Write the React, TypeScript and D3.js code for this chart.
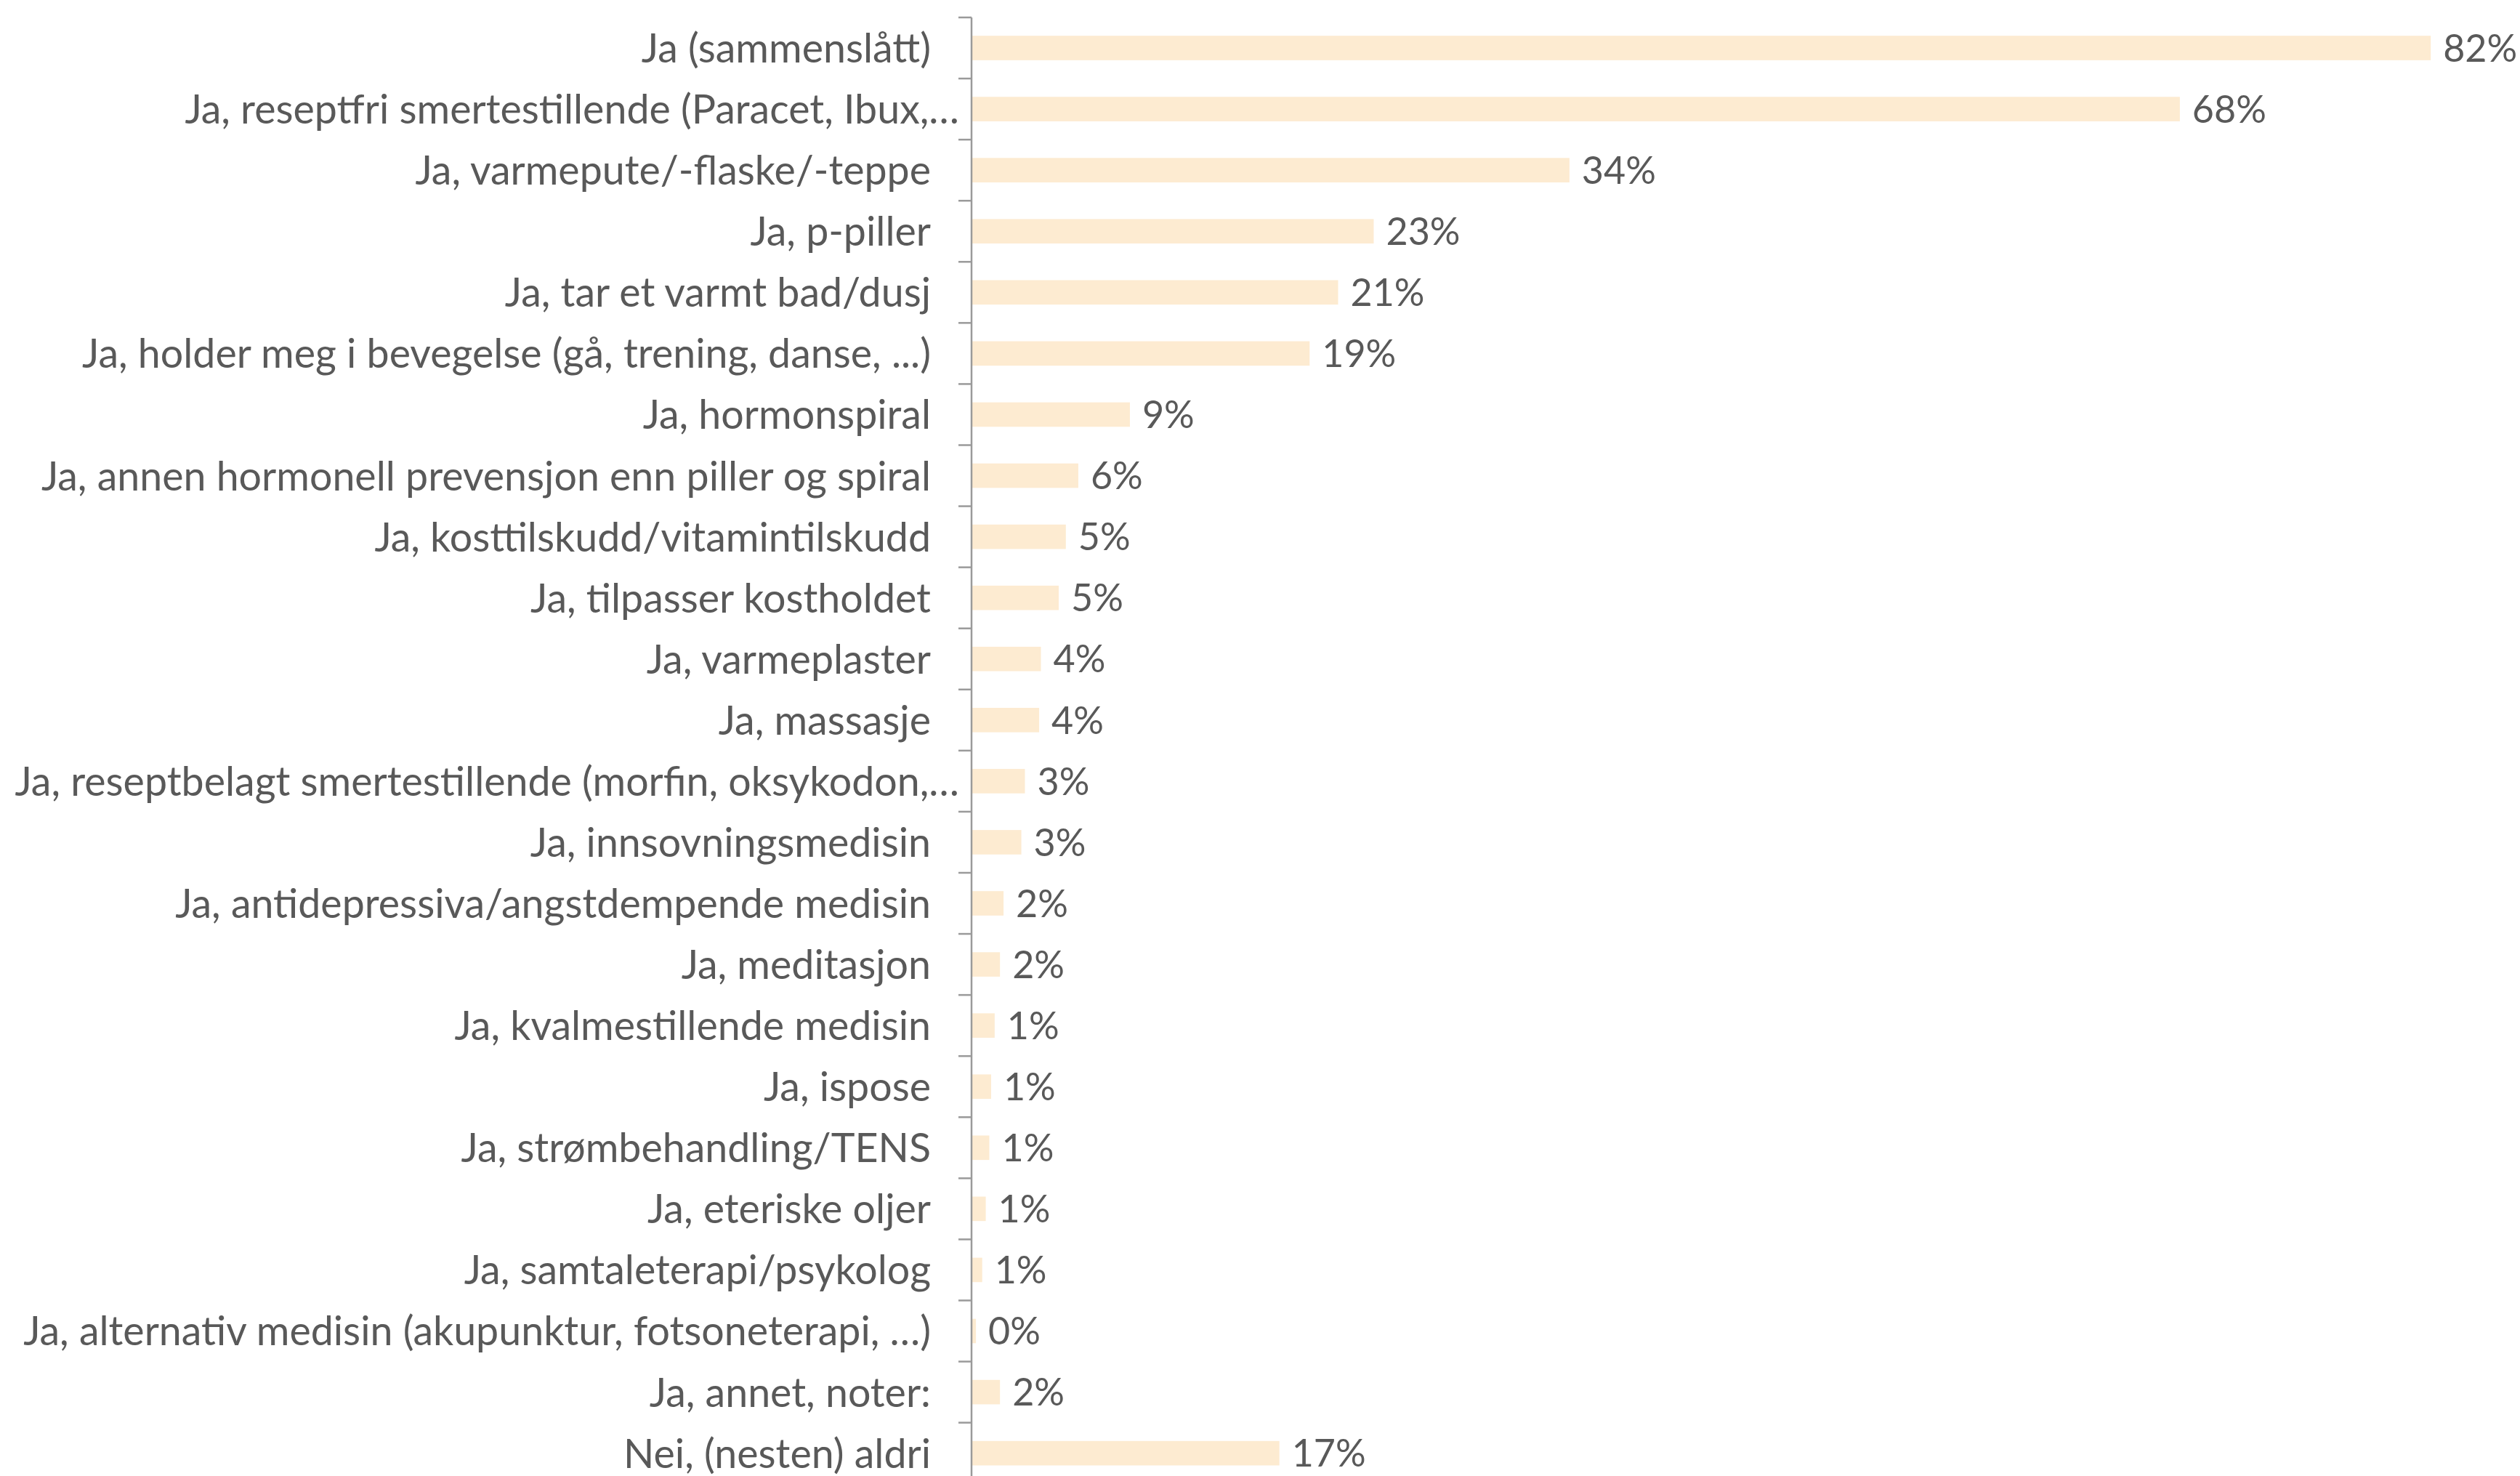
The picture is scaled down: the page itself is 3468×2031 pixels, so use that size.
import { useEffect, useRef } from 'react';
import * as d3 from 'd3';

const categories = [
  'Ja (sammenslått)',
  'Ja, reseptfri smertestillende (Paracet, Ibux,…',
  'Ja, varmepute/-flaske/-teppe',
  'Ja, p-piller',
  'Ja, tar et varmt bad/dusj',
  'Ja, holder meg i bevegelse (gå, trening, danse, ...)',
  'Ja, hormonspiral',
  'Ja, annen hormonell prevensjon enn piller og spiral',
  'Ja, kosttilskudd/vitamintilskudd',
  'Ja, tilpasser kostholdet',
  'Ja, varmeplaster',
  'Ja, massasje',
  'Ja, reseptbelagt smertestillende (morfin, oksykodon,…',
  'Ja, innsovningsmedisin',
  'Ja, antidepressiva/angstdempende medisin',
  'Ja, meditasjon',
  'Ja, kvalmestillende medisin',
  'Ja, ispose',
  'Ja, strømbehandling/TENS',
  'Ja, eteriske oljer',
  'Ja, samtaleterapi/psykolog',
  'Ja, alternativ medisin (akupunktur, fotsoneterapi, …)',
  'Ja, annet, noter:',
  'Nei, (nesten) aldri',
];

// percent of respondents
const values = [
  82.0, 67.9, 33.6, 22.6, 20.6, 19.0, 8.9, 6.0, 5.3, 4.9, 3.9, 3.8,
  3.0, 2.8, 1.8, 1.6, 1.3, 1.1, 1.0, 0.8, 0.6, 0.25, 1.6, 17.3,
];

const W = 3468;
const H = 2031;
const FONT = 'Lato, "Open Sans", sans-serif';
const TEXT = '#595959';

export default function App() {
  const svgRef = useRef<SVGSVGElement>(null);

  useEffect(() => {
    const el = svgRef.current;
    if (!el) return;
    const svg = d3.select(el);
    svg.selectAll('*').remove();

    const axisX = 1337;
    const top = 24;
    const step = 84.07;

    const y = d3.scaleBand<string>()
      .domain(categories)
      .range([top, top + step * categories.length])
      .paddingInner(0.6)
      .paddingOuter(0.3);

    const x = d3.scaleLinear().domain([0, 100]).range([axisX, axisX + 2449]);

    const data = categories.map((c, i) => ({ c, v: values[i] }));

    // Bars
    svg.append('g')
      .selectAll('rect')
      .data(data)
      .join('rect')
      .attr('x', x(0))
      .attr('y', (d) => y(d.c)!)
      .attr('width', (d) => x(d.v) - x(0))
      .attr('height', y.bandwidth())
      .attr('fill', '#fdebd1');

    // Axis line and ticks at band boundaries
    svg.append('line')
      .attr('x1', axisX).attr('x2', axisX)
      .attr('y1', top).attr('y2', H)
      .attr('stroke', '#9a9a9a')
      .attr('stroke-width', 2.5);

    svg.append('g')
      .selectAll('line')
      .data(d3.range(categories.length + 1))
      .join('line')
      .attr('x1', axisX - 18).attr('x2', axisX)
      .attr('y1', (i) => top + i * y.step())
      .attr('y2', (i) => top + i * y.step())
      .attr('stroke', '#9a9a9a')
      .attr('stroke-width', 2.5);

    // Category labels
    svg.append('g')
      .selectAll('text')
      .data(data)
      .join('text')
      .attr('x', (d) => (d.c.endsWith('…') ? axisX - 17 : axisX - 56))
      .attr('y', (d) => y(d.c)! + y.bandwidth() / 2)
      .attr('dy', '0.36em')
      .attr('text-anchor', 'end')
      .attr('fill', TEXT)
      .attr('font-size', 55.5)
      .attr('font-family', FONT)
      .text((d) => d.c);

    // Value labels
    svg.append('g')
      .selectAll('text')
      .data(data)
      .join('text')
      .attr('x', (d) => x(d.v) + 17)
      .attr('y', (d) => y(d.c)! + y.bandwidth() / 2)
      .attr('dy', '0.36em')
      .attr('fill', TEXT)
      .attr('font-size', 52)
      .attr('font-family', FONT)
      .text((d) => `${Math.round(d.v)}%`);
  }, []);

  return (
    <div style={{ position: 'absolute', left: 0, top: 0, background: '#fff' }}>
      <svg ref={svgRef} width={W} height={H} style={{ display: 'block' }} />
    </div>
  );
}
